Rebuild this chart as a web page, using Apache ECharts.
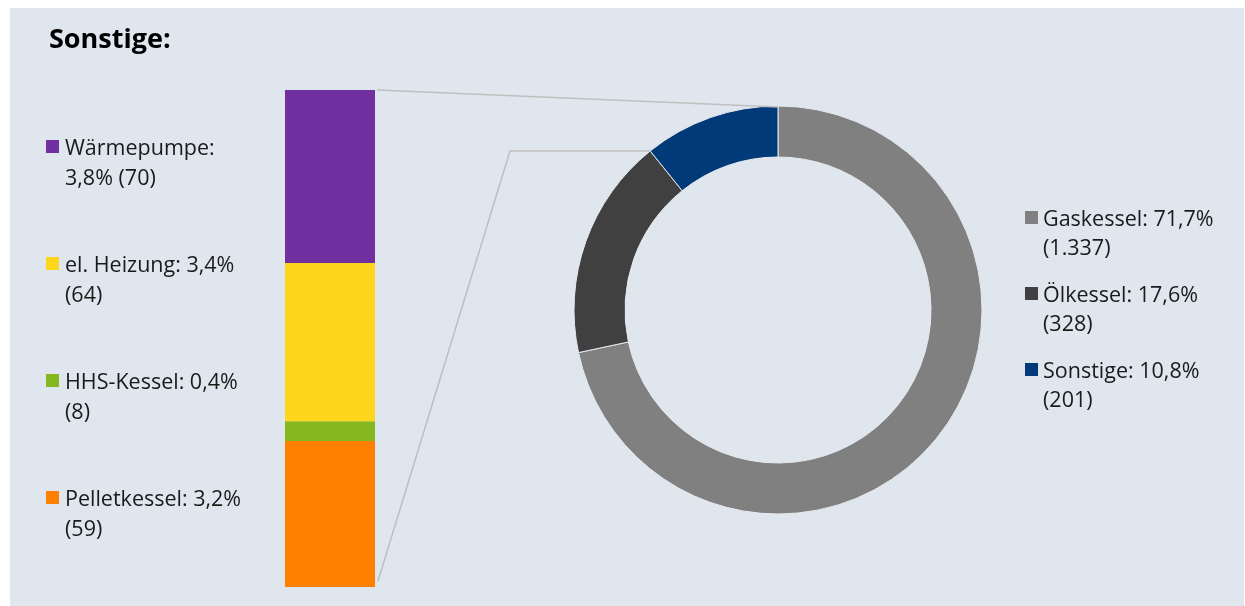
<!DOCTYPE html>
<html>
<head>
<meta charset="utf-8">
<script src="https://cdn.jsdelivr.net/npm/echarts@6/dist/echarts.min.js"></script>
<style>
  html, body { margin: 0; padding: 0; background: #fff; }
  #chart { width: 1245px; height: 606px; }
</style>
</head>
<body>
<div id="chart"></div>
<script>
// Aufteilung "Sonstige" (gestapelter Balken, von oben nach unten)
var stackNames  = ['Wärmepumpe', 'el. Heizung', 'HHS-Kessel', 'Pelletkessel'];
var stackValues = [70, 64, 8, 59];
var stackShares = ['3,8%', '3,4%', '0,4%', '3,2%'];
var stackColors = ['#7030a0', '#fdd51a', '#85b81e', '#ff8000'];

// Ring: alle Kessel
var ringNames  = ['Gaskessel', 'Ölkessel', 'Sonstige'];
var ringValues = [1337, 328, 201];
var ringShares = ['71,7%', '17,6%', '10,8%'];
var ringCounts = ['1.337', '328', '201'];
var ringColors = ['#808080', '#404040', '#003a78'];

var FONT = '"Open Sans"';
var bg = '#dfe6ee';

var myChart = echarts.init(document.getElementById('chart'));

// Balken-Geometrie
var gridLeft = 285, gridTop = 90, gridWidth = 90, gridHeight = 497;
// Ring-Geometrie
var cx = 778, cy = 310, rIn = 153, rOut = 204;

var total = 0;
stackValues.forEach(function (v) { total += v; });

// Balken von unten nach oben stapeln
var barSeries = [];
for (var i = stackNames.length - 1; i >= 0; i--) {
  barSeries.push({
    name: stackNames[i],
    type: 'bar',
    stack: 's',
    barWidth: '100%',
    itemStyle: { color: stackColors[i] },
    data: [stackValues[i]]
  });
}

var graphics = [];
// Hintergrundfläche
graphics.push({
  type: 'rect', z: -10, silent: true,
  shape: { x: 10, y: 8, width: 1234, height: 598 },
  style: { fill: bg }
});
// Titel
graphics.push({
  type: 'text', left: 49, top: 27,
  style: { text: 'Sonstige:', font: 'bold 27px ' + FONT, fill: '#000' }
});

// Legende links (Umbruch wie im Original)
stackNames.forEach(function (n, i) {
  var y = 147 + i * 117;
  var txt = i === 0
    ? n + ':\n' + stackShares[i] + ' (' + stackValues[i] + ')'
    : n + ': ' + stackShares[i] + '\n(' + stackValues[i] + ')';
  graphics.push({
    type: 'rect', shape: { x: 46, y: y - 7, width: 13, height: 13 },
    style: { fill: stackColors[i] }
  });
  graphics.push({
    type: 'text', x: 65, y: y - 13,
    style: { text: txt, font: '21.5px ' + FONT, fill: '#1a1a1a', lineHeight: 30 }
  });
});

// Legende rechts
ringNames.forEach(function (n, i) {
  var y = 218 + i * 76;
  graphics.push({
    type: 'rect', shape: { x: 1025, y: y - 7, width: 13, height: 13 },
    style: { fill: ringColors[i] }
  });
  graphics.push({
    type: 'text', x: 1043, y: y - 13,
    style: {
      text: n + ': ' + ringShares[i] + '\n(' + ringCounts[i] + ')',
      font: '21.5px ' + FONT, fill: '#1a1a1a', lineHeight: 29
    }
  });
});

// Verbindungslinien Balken -> Ring
var ringSum = 0;
ringValues.forEach(function (v) { ringSum += v; });
var ang = (90 + ringValues[2] / ringSum * 360) * Math.PI / 180;
var px = cx + rOut * Math.cos(ang), py = cy - rOut * Math.sin(ang);
var barRight = gridLeft + gridWidth;
graphics.push({
  type: 'line', z: 5,
  shape: { x1: barRight + 2, y1: gridTop, x2: cx, y2: cy - rOut + 1 },
  style: { stroke: '#bfbfbf', lineWidth: 1.5 }
});
graphics.push({
  type: 'polyline', z: 5,
  shape: { points: [[barRight + 3, gridTop + gridHeight - 6], [510, py], [px, py]] },
  style: { stroke: '#bfbfbf', lineWidth: 1.5, fill: null }
});

option = {
  animation: false,
  backgroundColor: '#fff',
  grid: { left: gridLeft, top: gridTop, width: gridWidth, height: gridHeight },
  xAxis: {
    type: 'category', data: ['Sonstige'],
    show: false
  },
  yAxis: {
    type: 'value', min: 0, max: total,
    show: false
  },
  series: barSeries.concat([{
    name: 'Kessel',
    type: 'pie',
    center: [cx, cy],
    radius: [rIn, rOut],
    startAngle: 90,
    clockwise: true,
    label: { show: false },
    labelLine: { show: false },
    itemStyle: { borderColor: '#e6e9ee', borderWidth: 1 },
    data: ringNames.map(function (n, i) {
      return { name: n, value: ringValues[i], itemStyle: { color: ringColors[i] } };
    })
  }]),
  graphic: graphics
};
myChart.setOption(option);
</script>
</body>
</html>
